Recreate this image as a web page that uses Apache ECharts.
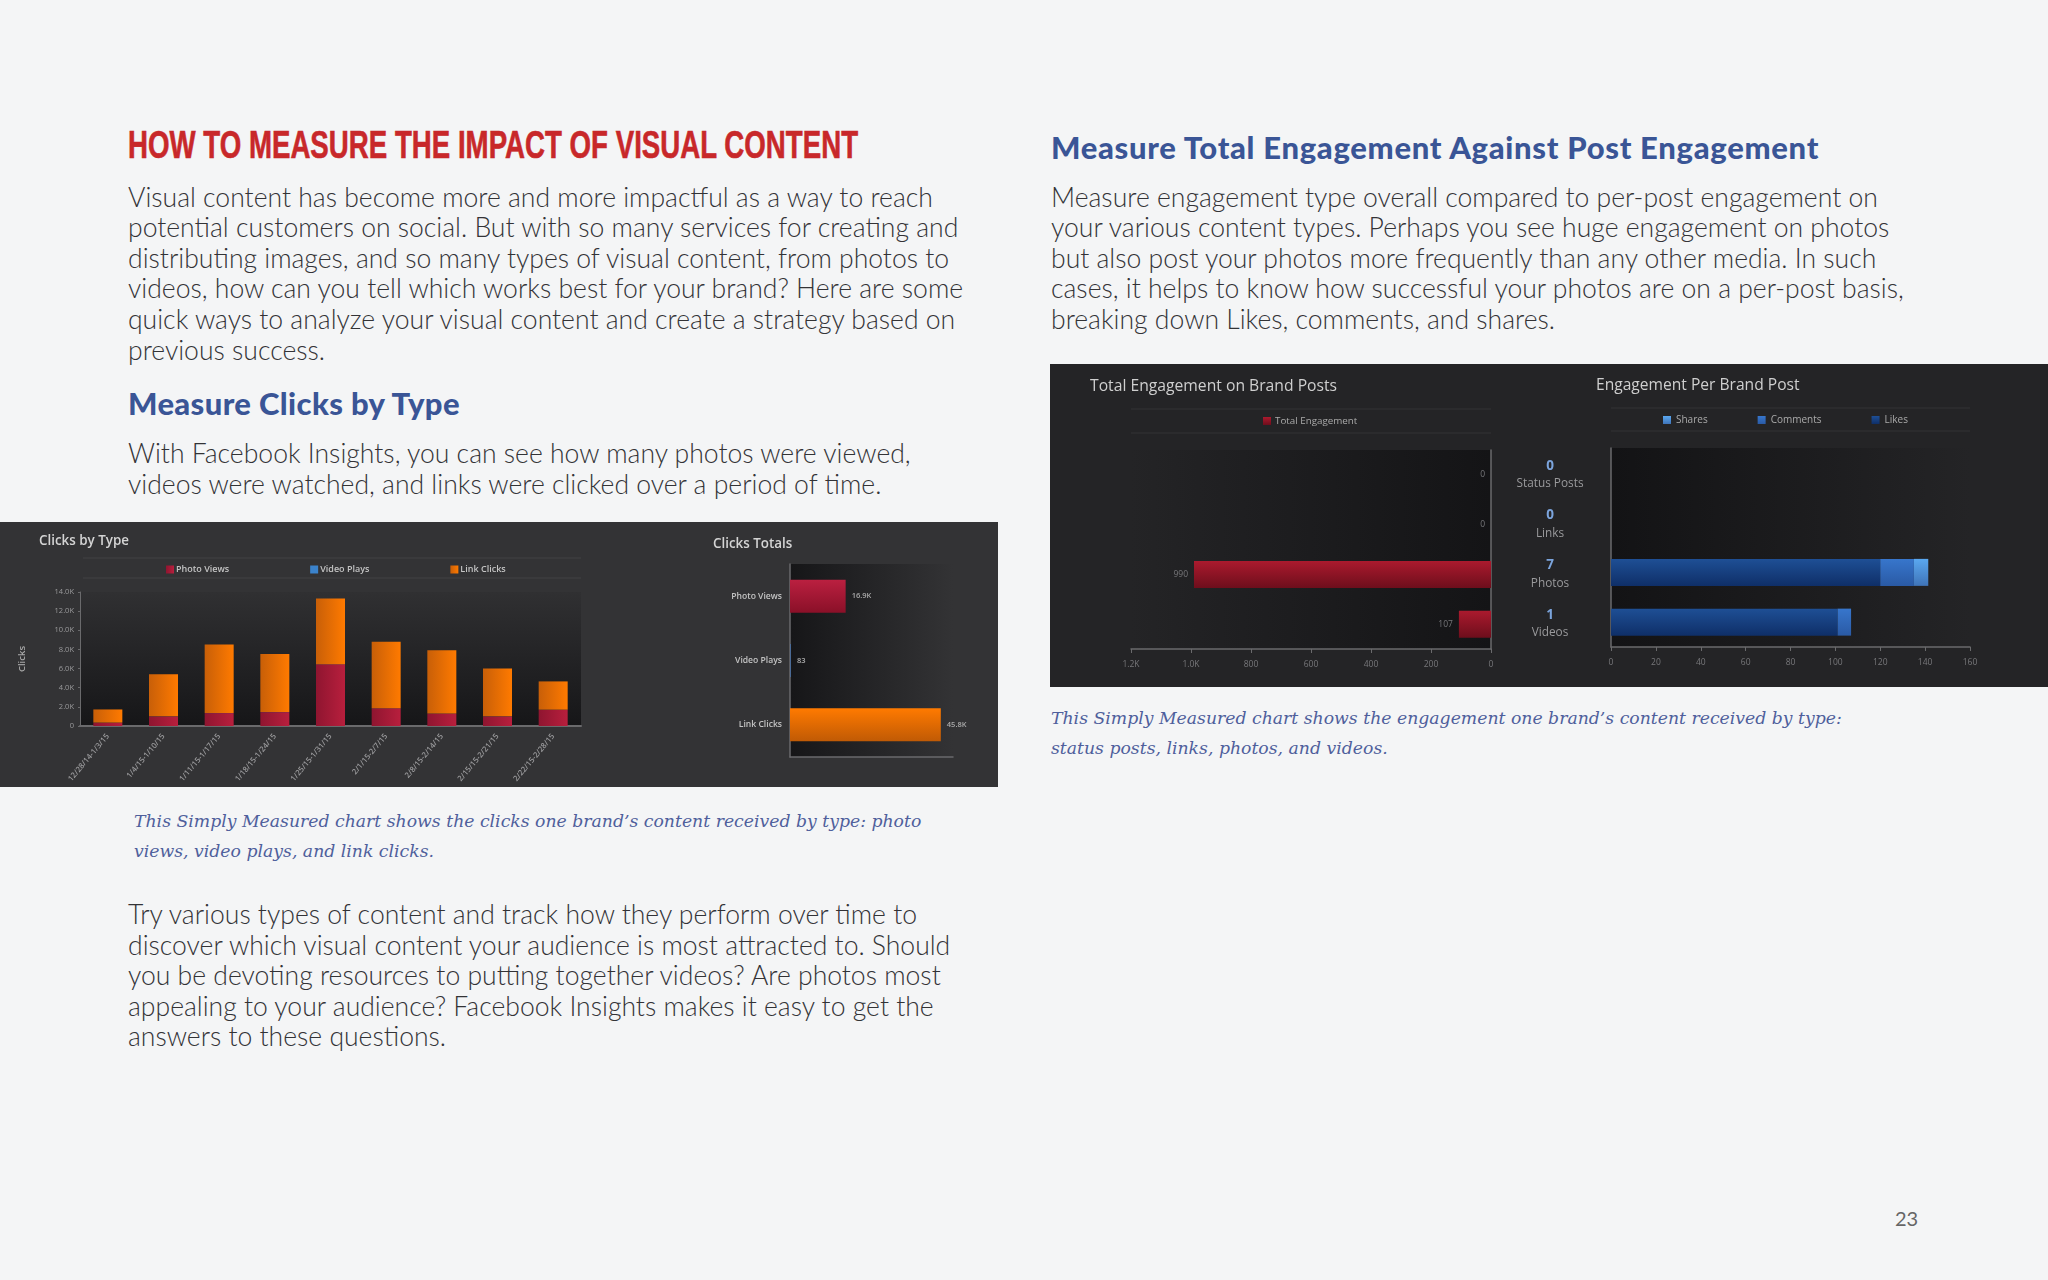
<!DOCTYPE html>
<html>
<head>
<meta charset="utf-8">
<title>How to measure the impact of visual content</title>
<script src="https://cdn.jsdelivr.net/npm/echarts@6/dist/echarts.min.js"></script>
<style>
  html, body { margin: 0; padding: 0; background: #f4f5f6; }
  #page { position: relative; width: 2048px; height: 1280px; overflow: hidden; }
  .panel { position: absolute; }
  #chart { position: absolute; left: 0; top: 0; width: 2048px; height: 1280px; filter: blur(0.5px); }
  .t { position: absolute; margin: 0; white-space: nowrap; }
  .body { font: 300 26.55px/30.6px Lato, sans-serif; color: #333336; }
  .h1 { font: bold 38px/44px "Liberation Sans", sans-serif; color: #c8282a; transform: scaleX(0.728); transform-origin: left center; -webkit-text-stroke: 0.6px #c8282a; }
  .h2 { font: 900 31px/36px Lato, sans-serif; letter-spacing: 0.37px; color: #3a5596; }
  .cap { font: italic 17.25px/30px "DejaVu Serif", serif; color: #4f5f9c; }
</style>
</head>
<body>
<div id="page">
  <div class="panel" style="left:0;top:522px;width:998px;height:265px;background:#333335"></div>
  <div class="panel" style="left:1050px;top:364px;width:998px;height:323px;background:#242426"></div>

  <h1 class="t h1" style="left:128px;top:123px">HOW TO MEASURE THE IMPACT OF VISUAL CONTENT</h1>
  <p class="t body" style="left:128px;top:181.6px">Visual content has become more and more impactful as a way to reach<br>potential customers on social. But with so many services for creating and<br>distributing images, and so many types of visual content, from photos to<br>videos, how can you tell which works best for your brand? Here are some<br>quick ways to analyze your visual content and create a strategy based on<br>previous success.</p>
  <h2 class="t h2" style="left:128px;top:385px">Measure Clicks by Type</h2>
  <p class="t body" style="left:128px;top:438px">With Facebook Insights, you can see how many photos were viewed,<br>videos were watched, and links were clicked over a period of time.</p>
  <p class="t cap" style="left:134px;top:806px">This Simply Measured chart shows the clicks one brand’s content received by type: photo<br>views, video plays, and link clicks.</p>
  <p class="t body" style="left:128px;top:899px">Try various types of content and track how they perform over time to<br>discover which visual content your audience is most attracted to. Should<br>you be devoting resources to putting together videos? Are photos most<br>appealing to your audience? Facebook Insights makes it easy to get the<br>answers to these questions.</p>

  <h2 class="t h2" style="left:1051px;top:129px;letter-spacing:0.69px">Measure Total Engagement Against Post Engagement</h2>
  <p class="t body" style="left:1051px;top:181.6px">Measure engagement type overall compared to per-post engagement on<br>your various content types. Perhaps you see huge engagement on photos<br>but also post your photos more frequently than any other media. In such<br>cases, it helps to know how successful your photos are on a per-post basis,<br>breaking down Likes, comments, and shares.</p>
  <p class="t cap" style="left:1051px;top:703px">This Simply Measured chart shows the engagement one brand’s content received by type:<br>status posts, links, photos, and videos.</p>
  <div class="t" style="left:1895px;top:1206px;font:20px Lato,sans-serif;color:#666">23</div>

  <div id="chart"></div>
</div>
<script>
// clicks by type, weekly
var weeks = ['12/28/14-1/3/15', '1/4/15-1/10/15', '1/11/15-1/17/15', '1/18/15-1/24/15', '1/25/15-1/31/15', '2/1/15-2/7/15', '2/8/15-2/14/15', '2/15/15-2/21/15', '2/22/15-2/28/15'];
var photoViews = [350, 1000, 1350, 1450, 6450, 1850, 1300, 1000, 1700];
var videoPlays = [9, 9, 9, 10, 10, 9, 9, 9, 9];
var linkClicks = [1370, 4400, 7150, 6050, 6850, 6950, 6600, 5000, 2950];
// clicks totals
var totalNames = ['Photo Views', 'Video Plays', 'Link Clicks'];
var totalValues = [16900, 83, 45800];
// engagement
var postTypes = ['Status Posts', 'Links', 'Photos', 'Videos'];
var postCounts = [0, 0, 7, 1];
var totalEngagement = [0, 0, 990, 107];
var likes = [0, 0, 120, 101];
var comments = [0, 0, 15, 6];
var shares = [0, 0, 6.4, 0];

var chart = echarts.init(document.getElementById('chart'));
var G = echarts.graphic.LinearGradient;
var uiFont = '"Open Sans", sans-serif';
var labelColor = '#9a9a9c';
var axisColor = '#6a6a6c';

function side(c1, c2) { return new G(0, 0, 1, 0, [{ offset: 0, color: c1 }, { offset: 1, color: c2 }]); }
function down(c1, c2) { return new G(0, 0, 0, 1, [{ offset: 0, color: c1 }, { offset: 1, color: c2 }]); }
function kFmt(v) { return v >= 1000 ? (v / 1000).toFixed(1) + 'K' : String(v); }

function sepLine(x1, x2, y) {
  return { type: 'line', shape: { x1: x1, y1: y, x2: x2, y2: y }, style: { stroke: 'rgba(255,255,255,0.07)', lineWidth: 1 }, silent: true };
}

var option = {
  animation: false,
  textStyle: { fontFamily: uiFont },
  title: [
    { text: 'Clicks by Type', left: 39, top: 535, padding: 0, textStyle: { color: '#d4d4d4', fontSize: 13.4, fontWeight: 600, fontFamily: uiFont } },
    { text: 'Clicks Totals', left: 713, top: 538, padding: 0, textStyle: { color: '#d4d4d4', fontSize: 13.4, fontWeight: 600, fontFamily: uiFont } },
    { text: 'Total Engagement on Brand Posts', left: 1090, top: 379, padding: 0, textStyle: { color: '#cfcfcf', fontSize: 15.7, fontWeight: 'normal', fontFamily: uiFont } },
    { text: 'Engagement Per Brand Post', left: 1596, top: 378, padding: 0, textStyle: { color: '#cfcfcf', fontSize: 15.6, fontWeight: 'normal', fontFamily: uiFont } }
  ],
  legend: [
    { left: 161, top: 560, itemWidth: 8, itemHeight: 8, itemGap: 81, data: ['Photo Views', 'Video Plays', 'Link Clicks'], icon: 'rect', textStyle: { color: '#c4c4c4', fontSize: 9, fontWeight: 600, padding: [0, 0, 0, -3] } },
    { left: 1258, top: 411, itemWidth: 8, itemHeight: 8, data: ['Total Engagement'], icon: 'rect', textStyle: { color: '#aaa', fontSize: 9.8, padding: [0, 0, 0, -1] } },
    { left: 1658, top: 410, itemWidth: 8, itemHeight: 8, itemGap: 50, data: ['Shares', 'Comments', 'Likes'], icon: 'rect', textStyle: { color: '#aaa', fontSize: 10 } }
  ],
  graphic: [sepLine(83, 581, 558), sepLine(83, 581, 578), sepLine(1131, 1491, 409), sepLine(1131, 1491, 433), sepLine(1611, 1970, 408), sepLine(1611, 1970, 431)],
  grid: [
    { left: 80, top: 592, width: 501, height: 134, show: true, borderWidth: 0, backgroundColor: down('#303032', '#161618') },
    { left: 790, top: 564, width: 163, height: 193, show: true, borderWidth: 0, backgroundColor: side('#161618', '#333335') },
    { left: 1131, top: 450, width: 360, height: 199, show: true, borderWidth: 0, backgroundColor: side('#242426', '#141416') },
    { left: 1611, top: 448, width: 359, height: 199, show: true, borderWidth: 0, backgroundColor: side('#131315', '#242426') }
  ],
  xAxis: [
    { gridIndex: 0, type: 'category', data: weeks, axisTick: { show: false }, axisLine: { lineStyle: { color: axisColor, width: 2 } },
      axisLabel: { color: labelColor, fontSize: 7.8, fontWeight: 600, rotate: 50, interval: 0, margin: 9 } },
    { gridIndex: 1, type: 'value', min: 0, max: 49500, splitLine: { show: false }, axisLabel: { show: false }, axisTick: { show: false }, axisLine: { show: true, lineStyle: { color: axisColor, width: 1.5 } } },
    { gridIndex: 2, type: 'value', inverse: true, min: 0, max: 1200, interval: 200, splitLine: { show: false }, axisTick: { show: true, length: 4, inside: false, lineStyle: { color: axisColor } }, axisLine: { show: true, lineStyle: { color: axisColor, width: 1.5 } },
      axisLabel: { color: '#77777a', fontSize: 8.5, formatter: kFmt, margin: 11 } },
    { gridIndex: 3, type: 'value', min: 0, max: 160, interval: 20, splitLine: { show: false }, axisTick: { show: true, length: 4, lineStyle: { color: axisColor } }, axisLine: { show: true, lineStyle: { color: axisColor, width: 1.5 } },
      axisLabel: { color: '#77777a', fontSize: 8.5, margin: 11 } }
  ],
  yAxis: [
    { gridIndex: 0, type: 'value', min: 0, max: 14000, interval: 2000, name: 'Clicks', nameLocation: 'middle', nameGap: 53, nameRotate: 90, nameTextStyle: { color: '#a8a8a8', fontSize: 9.5, fontWeight: 600 },
      splitLine: { show: false }, axisTick: { show: true, length: 2, lineStyle: { color: axisColor } }, axisLine: { show: true, lineStyle: { color: axisColor } },
      axisLabel: { color: labelColor, fontSize: 7.5, formatter: kFmt, margin: 6 } },
    { gridIndex: 1, type: 'category', inverse: true, data: totalNames, axisTick: { show: false }, axisLine: { lineStyle: { color: axisColor, width: 1.5 } },
      axisLabel: { color: '#c4c4c4', fontSize: 8.6, fontWeight: 600, margin: 8 } },
    { gridIndex: 2, type: 'category', inverse: true, position: 'right', data: postTypes, axisTick: { show: false }, axisLabel: { show: false }, axisLine: { lineStyle: { color: axisColor, width: 1.5 } } },
    { gridIndex: 3, type: 'category', inverse: true, data: postTypes, axisTick: { show: false }, axisLine: { lineStyle: { color: axisColor, width: 1.5 } },
      axisLabel: { align: 'center', margin: 61, lineHeight: 17, padding: [3, 0, 0, 0],
        formatter: function (name, i) { return '{n|' + postCounts[i] + '}\n{l|' + name + '}'; },
        rich: {
          n: { color: '#7ba4dc', fontSize: 13.5, fontWeight: 'bold', fontFamily: uiFont, lineHeight: 19 },
          l: { color: '#9a9a9c', fontSize: 11.8, fontFamily: uiFont, lineHeight: 17 }
        } } }
  ],
  series: [
    { name: 'Photo Views', type: 'bar', stack: 'clicks', xAxisIndex: 0, yAxisIndex: 0, barWidth: 29, data: photoViews, itemStyle: { color: side('#8f1530', '#b81f3d') } },
    { name: 'Video Plays', type: 'bar', stack: 'clicks', xAxisIndex: 0, yAxisIndex: 0, barWidth: 29, data: videoPlays, itemStyle: { color: '#3b83cc' } },
    { name: 'Link Clicks', type: 'bar', stack: 'clicks', xAxisIndex: 0, yAxisIndex: 0, barWidth: 29, data: linkClicks, itemStyle: { color: side('#c85f08', '#ff7a00') } },
    { name: 'Clicks Totals', type: 'bar', xAxisIndex: 1, yAxisIndex: 1, barWidth: 33, barMinHeight: 1, data: totalValues.map(function (v, i) {
        return { value: v, itemStyle: { color: [down('#bb2040', '#8a1028'), '#4a6a96', down('#ff7a00', '#c05a05')][i] } };
      }),
      label: { show: true, position: 'right', distance: 6, color: '#aaa', fontSize: 7.5, fontWeight: 600, formatter: function (p) { return kFmt(p.value); } } },
    { name: 'Total Engagement', type: 'bar', xAxisIndex: 2, yAxisIndex: 2, barWidth: 27, data: totalEngagement, itemStyle: { color: down('#ab1a2e', '#6e0e1c') },
      label: { show: true, position: 'left', distance: 6, color: '#77777a', fontSize: 8.5 } },
    { name: 'Likes', type: 'bar', stack: 'eng', xAxisIndex: 3, yAxisIndex: 3, barWidth: 27, data: likes, itemStyle: { color: down('#1e4f95', '#0f2f68') } },
    { name: 'Comments', type: 'bar', stack: 'eng', xAxisIndex: 3, yAxisIndex: 3, barWidth: 27, data: comments, itemStyle: { color: down('#3776cc', '#2a5aa5') } },
    { name: 'Shares', type: 'bar', stack: 'eng', xAxisIndex: 3, yAxisIndex: 3, barWidth: 27, data: shares, itemStyle: { color: down('#5aa8f0', '#3f74b8') } }
  ]
};
chart.setOption(option);
</script>
</body>
</html>
